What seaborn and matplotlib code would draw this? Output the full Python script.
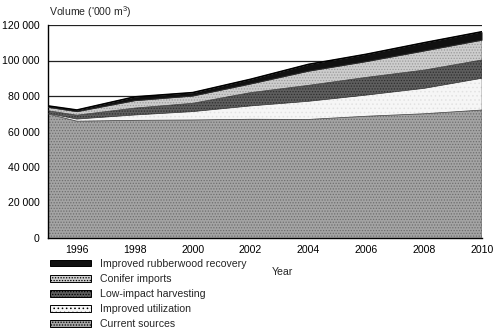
import matplotlib
matplotlib.use("Agg")
import matplotlib.pyplot as plt
from matplotlib.patches import Patch
import numpy as np
import pandas as pd
import seaborn as sns

# Projected wood supply by source, '000 m3 (values in m3)
years = [1995, 1996, 1998, 2000, 2002, 2004, 2006, 2008, 2010]
current_sources = [69900, 65800, 66300, 66500, 66900, 66800, 68600, 70000, 72100]
improved_utilization = [300, 1200, 3000, 4700, 7500, 10200, 11900, 14300, 17900]
low_impact_harvesting = [1500, 2200, 3900, 4700, 7500, 9000, 10000, 10300, 10300]
conifer_imports = [1900, 2000, 4200, 4100, 4900, 8000, 8900, 10800, 11200]
rubberwood_recovery = [800, 900, 2100, 1900, 2600, 3800, 4100, 4600, 4700]

series_names = ["Current sources", "Improved utilization", "Low-impact harvesting",
                "Conifer imports", "Improved rubberwood recovery"]
x_ticks = [1996, 1998, 2000, 2002, 2004, 2006, 2008, 2010]
y_ticks = [0, 20000, 40000, 60000, 80000, 100000, 120000]

df = pd.DataFrame({
    "Year": years,
    "Current sources": current_sources,
    "Improved utilization": improved_utilization,
    "Low-impact harvesting": low_impact_harvesting,
    "Conifer imports": conifer_imports,
    "Improved rubberwood recovery": rubberwood_recovery,
})

sns.set_theme(style="white")
plt.rcParams["font.family"] = ["Liberation Sans", "DejaVu Sans"]
plt.rcParams["mathtext.fontset"] = "custom"
plt.rcParams["mathtext.rm"] = "Liberation Sans"
plt.rcParams["mathtext.default"] = "rm"
plt.rcParams["hatch.linewidth"] = 0.6

styles = {
    "Current sources": dict(facecolor="#a4a4a4", edgecolor="#6e6e6e", hatch="......"),
    "Improved utilization": dict(facecolor="#f6f6f6", edgecolor="#e2e2e2", hatch="...."),
    "Low-impact harvesting": dict(facecolor="#5e5e5e", edgecolor="#2e2e2e", hatch="......"),
    "Conifer imports": dict(facecolor="#cdcdcd", edgecolor="#9a9a9a", hatch="......"),
    "Improved rubberwood recovery": dict(facecolor="#111111", edgecolor="#111111", hatch=None),
}

fig = plt.figure(figsize=(4.95, 3.31), dpi=100)
ax = fig.add_axes([48 / 495, 1 - 238 / 331, (482 - 48) / 495, (238 - 25) / 331])

# Horizontal reference lines sit beneath the stacked areas
ax.set_axisbelow(True)
for v in y_ticks[1:]:
    ax.axhline(v, color="#222222", lw=0.9, zorder=0)

base = np.zeros(len(years))
for name in series_names:
    top = base + df[name].to_numpy()
    st = styles[name]
    ax.fill_between(df["Year"], base, top, facecolor=st["facecolor"],
                    edgecolor=st["edgecolor"], hatch=st["hatch"], linewidth=0, zorder=2)
    # thin outline along the top of each layer
    sns.lineplot(x=df["Year"], y=top, ax=ax, color="#333333", lw=0.5, zorder=3)
    base = top

# Outline of the total supply
sns.lineplot(x=df["Year"], y=base, ax=ax, color="black", lw=1.2, zorder=4)
ax.vlines(years[-1], 0, base[-1], color="#222222", lw=1.0, zorder=4)

ax.set_xlim(1995, 2010)
ax.set_ylim(0, 120000)
ax.set_xticks(x_ticks)
ax.set_xticklabels([str(y) for y in x_ticks], fontsize=7.6)
ax.set_yticks(y_ticks)
ax.set_yticklabels([f"{v:,}".replace(",", " ") for v in y_ticks], fontsize=7.6)
ax.tick_params(axis="both", length=0, colors="black")
ax.tick_params(axis="y", pad=6)
ax.tick_params(axis="x", pad=5)
ax.set_xlabel("")
ax.set_ylabel("")

for side in ["top", "right"]:
    ax.spines[side].set_visible(False)
for side in ["left", "bottom"]:
    ax.spines[side].set_color("black")
    ax.spines[side].set_linewidth(1.0)

fig.text(49 / 495, 1 - 12 / 331, "Volume ('000 m$^{3}$)", fontsize=7.6, ha="left", va="center")
fig.text(282 / 495, 1 - 272 / 331, "Year", fontsize=7.6, ha="center", va="center")

handles = []
for name in series_names[::-1]:
    st = styles[name]
    handles.append(Patch(facecolor=st["facecolor"], edgecolor="black",
                         hatch=st["hatch"], linewidth=0.7, label=name))
fig.legend(handles=handles, loc="upper left", bbox_to_anchor=(50 / 495, 1 - 259 / 331),
           frameon=False, fontsize=7.6, handlelength=3.9, handleheight=0.55,
           handletextpad=0.85, labelspacing=0.48, borderpad=0, borderaxespad=0)

fig.savefig("out.png", dpi=100)
